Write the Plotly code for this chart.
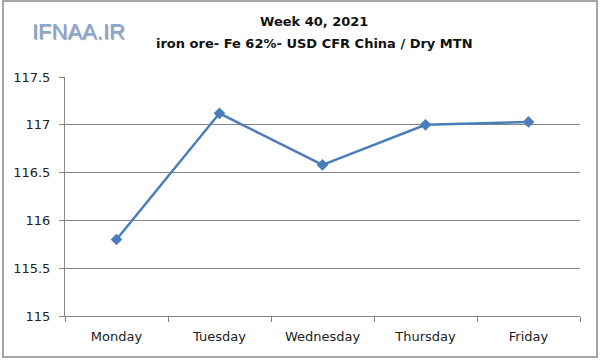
import plotly.graph_objects as go

days = ["Monday", "Tuesday", "Wednesday", "Thursday", "Friday"]
prices = [115.8, 117.12, 116.58, 117.0, 117.03]
y_ticks = [115, 115.5, 116, 116.5, 117, 117.5]
y_tick_labels = ["115", "115.5", "116", "116.5", "117", "117.5"]
title_line1 = "Week 40, 2021"
title_line2 = "iron ore- Fe 62%- USD CFR China / Dry MTN"
logo_text = "IFNAA.IR"

W, H = 600, 361
L, R, T, B = 65, 20, 77, 45
pw, ph = W - L - R, H - T - B

def px(x):
    return (x - L) / pw

def py(y):
    return 1 - (y - T) / ph

fig = go.Figure()
fig.add_trace(go.Scatter(
    x=days, y=prices, mode="lines+markers",
    line=dict(color="#4A7EBB", width=2.5),
    marker=dict(symbol="diamond", size=9, color="#4A7EBB"),
    showlegend=False, hoverinfo="skip",
))

font_fam = "DejaVu Sans, sans-serif"
fig.update_layout(
    width=W, height=H,
    margin=dict(l=L, r=R, t=T, b=B),
    paper_bgcolor="white", plot_bgcolor="white",
    xaxis=dict(
        type="category", showgrid=False, showline=True, linecolor="#868686", linewidth=1,
        ticks="outside", tickson="boundaries", ticklen=5, tickcolor="#868686",
        tickfont=dict(family=font_fam, size=13, color="#222"),
        ticklabelstandoff=8,
        range=[-0.5, 4.5], fixedrange=True,
    ),
    yaxis=dict(
        range=[115, 117.5], tickvals=y_ticks, ticktext=y_tick_labels,
        showgrid=True, gridcolor="#868686", gridwidth=1,
        showline=True, linecolor="#868686", linewidth=1,
        ticks="outside", ticklen=5, tickcolor="#868686",
        tickfont=dict(family=font_fam, size=13, color="#222"),
        ticklabelstandoff=6,
        zeroline=False, fixedrange=True,
    ),
    shapes=[dict(
        type="rect", xref="paper", yref="paper",
        x0=px(3), x1=px(597), y0=py(357), y1=py(1),
        line=dict(color="#a6a6a6", width=2), fillcolor="rgba(0,0,0,0)", layer="below",
    )],
    annotations=[
        dict(text="<b>" + title_line1 + "</b>", xref="paper", yref="paper",
             x=px(314), y=py(21), showarrow=False, xanchor="center", yanchor="middle",
             font=dict(family=font_fam, size=13, color="#111")),
        dict(text="<b>" + title_line2 + "</b>", xref="paper", yref="paper",
             x=px(314), y=py(44), showarrow=False, xanchor="center", yanchor="middle",
             font=dict(family=font_fam, size=13, color="#111")),
        dict(text=logo_text, xref="paper", yref="paper",
             x=px(30), y=py(31), showarrow=False, xanchor="left", yanchor="middle",
             font=dict(family="Liberation Sans, Arial, sans-serif", size=22, color="#86a9d9",
                       shadow="1px 1px 1px #9a9a9a")),
    ],
)

fig.write_html("out.html", config={"displayModeBar": False},
               post_script="document.body.style.margin='0';")
